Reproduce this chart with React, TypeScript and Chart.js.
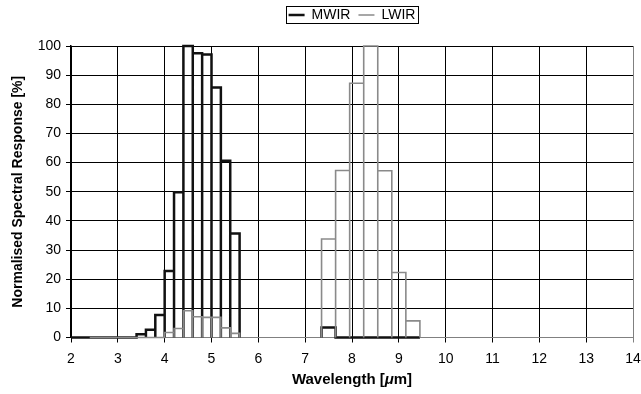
import React, { useEffect, useRef } from 'react';
import { Chart, registerables } from 'chart.js';

Chart.register(...registerables);

// 0.2 µm bins (centres, µm)
const mwirFineCenters = [2.1, 2.3, 2.5, 2.7, 2.9, 3.1, 3.3, 3.5, 3.7, 3.9, 4.1, 4.3, 4.5, 4.7, 4.9, 5.1, 5.3, 5.5];
const mwirFineValues = [0, 0, 0, 0, 0, 0, 0, 1.1, 2.7, 7.7, 22.8, 49.8, 100, 97.5, 97.1, 85.8, 60.6, 35.7];
const lwirFineCenters = [2.5, 2.7, 2.9, 3.1, 3.3, 3.5, 3.7, 3.9, 4.1, 4.3, 4.5, 4.7, 4.9, 5.1, 5.3, 5.5];
const lwirFineValues = [0, 0, 0, 0, 0, 0, 0, 0, 1.7, 3.1, 9.2, 7.1, 6.9, 6.9, 3.3, 1.4];
// 0.3 µm bins (centres, µm)
const coarseCenters = [7.5, 7.8, 8.1, 8.4, 8.7, 9.0, 9.3];
const mwirCoarseValues = [3.4, 0, 0, 0, 0, 0, 0];
const lwirCoarseValues = [33.8, 57.3, 87.2, 100, 57.2, 22.3, 5.7];

const xMin = 2;
const xMax = 14;
const yMin = 0;
const yMax = 100;
const yStep = 10;
const xStep = 1;

const seriesNames = ['MWIR', 'LWIR'];
const seriesColors = ['#111111', '#8a8a8a'];
const seriesWidths = [2.5, 1.6];

// x-axis title pieces: [text, italic?]
const xTitleParts: [string, boolean][] = [['Wavelength [', false], ['μ', true], ['m]', false]];

const FONT = '"Liberation Sans", Arial, sans-serif';

const toPoints = (xs: number[], ys: number[]) => xs.map((x, i) => ({ x, y: ys[i] }));

// Draws each bin as an outline (left edge, top, right edge) like the original line-traced histogram,
// converting bin edges and values to pixels through the chart's own scales.
const outlinePlugin = {
  id: 'histOutline',
  afterDatasetsDraw(chart: any) {
    const ctx = chart.ctx;
    const xs = chart.scales.x;
    const ys = chart.scales.y;
    const items = chart.data.datasets
      .map((ds: any, i: number) => ({ ds, i }))
      .sort((a: any, b: any) => (b.ds.order || 0) - (a.ds.order || 0));
    ctx.save();
    for (const { ds } of items) {
      const pts = ds.data as { x: number; y: number }[];
      if (!pts.length) continue;
      const half = pts.length > 1 ? (pts[1].x - pts[0].x) / 2 : 0.1;
      const base = ys.getPixelForValue(0);
      ctx.beginPath();
      ctx.strokeStyle = ds.outlineColor;
      ctx.lineWidth = ds.outlineWidth;
      ctx.lineJoin = 'miter';
      ctx.lineCap = 'butt';
      pts.forEach((p, k) => {
        const l = xs.getPixelForValue(p.x - half);
        const r = xs.getPixelForValue(p.x + half);
        const t = ys.getPixelForValue(Math.min(p.y, yMax));
        if (k === 0) ctx.moveTo(l, base);
        else ctx.lineTo(l, base);
        ctx.lineTo(l, t);
        ctx.lineTo(r, t);
        ctx.lineTo(r, base);
      });
      ctx.stroke();
    }
    ctx.restore();
  },
};

const xTitlePlugin = {
  id: 'xTitle',
  afterDraw(chart: any) {
    const ctx = chart.ctx;
    const ca = chart.chartArea;
    const fontFor = (it: boolean) => `${it ? 'italic ' : ''}bold 15px ${FONT}`;
    ctx.save();
    let total = 0;
    const widths = xTitleParts.map(([t, it]) => {
      ctx.font = fontFor(it);
      const w = ctx.measureText(t).width;
      total += w;
      return w;
    });
    let x = (ca.left + ca.right) / 2 - total / 2;
    ctx.fillStyle = '#000';
    ctx.textBaseline = 'middle';
    ctx.textAlign = 'left';
    xTitleParts.forEach(([t, it], i) => {
      ctx.font = fontFor(it);
      ctx.fillText(t, x, chart.height - 14);
      x += widths[i];
    });
    ctx.restore();
  },
};

const legendBoxPlugin = {
  id: 'legendBox',
  afterInit(chart: any) {
    const lg = chart.legend;
    if (lg && !lg.__patched) {
      const orig = lg.fit.bind(lg);
      lg.fit = function () {
        orig();
        this.height = 46;
      };
      lg.__patched = true;
    }
  },
  afterLayout(chart: any) {
    const lg = chart.legend;
    const ca = chart.chartArea;
    if (!lg || !ca) return;
    const d = (ca.left + ca.right) / 2 - (lg.left + lg.right) / 2;
    lg.left += d;
    lg.right += d;
  },
  afterDraw(chart: any) {
    const lg = chart.legend;
    if (!lg || !lg.legendHitBoxes || !lg.legendHitBoxes.length) return;
    const boxes = lg.legendHitBoxes;
    let minX = Infinity, maxX = -Infinity, minY = Infinity, maxY = -Infinity;
    boxes.forEach((b: any) => {
      minX = Math.min(minX, b.left);
      maxX = Math.max(maxX, b.left + b.width);
      minY = Math.min(minY, b.top);
      maxY = Math.max(maxY, b.top + b.height);
    });
    const ctx = chart.ctx;
    ctx.save();
    ctx.strokeStyle = '#000';
    ctx.lineWidth = 1;
    ctx.strokeRect(Math.round(minX - 3) + 0.5, Math.round(minY - 2) + 0.5, Math.round(maxX - minX + 5), Math.round(maxY - minY + 3));
    ctx.restore();
  },
};

export default function App() {
  const ref = useRef<HTMLCanvasElement>(null);

  useEffect(() => {
    if (!ref.current) return;
    const common = {
      type: 'bar' as const,
      backgroundColor: 'rgba(0,0,0,0)',
      borderWidth: 0,
      barThickness: 'flex' as const,
      categoryPercentage: 1,
      barPercentage: 1,
      grouped: false,
    };
    const chart = new Chart(ref.current, {
      type: 'bar',
      data: {
        datasets: [
          { ...common, label: 'MWIR', data: toPoints(mwirFineCenters, mwirFineValues), outlineColor: seriesColors[0], outlineWidth: seriesWidths[0], order: 2 } as any,
          { ...common, label: 'MWIR', data: toPoints(coarseCenters, mwirCoarseValues), outlineColor: seriesColors[0], outlineWidth: seriesWidths[0], order: 2 } as any,
          { ...common, label: 'LWIR', data: toPoints(lwirFineCenters, lwirFineValues), outlineColor: seriesColors[1], outlineWidth: seriesWidths[1], order: 1 } as any,
          { ...common, label: 'LWIR', data: toPoints(coarseCenters, lwirCoarseValues), outlineColor: seriesColors[1], outlineWidth: seriesWidths[1], order: 1 } as any,
        ],
      },
      options: {
        animation: false,
        responsive: true,
        maintainAspectRatio: false,
        layout: { padding: { top: 0, left: 0, right: 0, bottom: 0 } },
        plugins: {
          tooltip: { enabled: false },
          legend: {
            display: true,
            position: 'top',
            labels: {
              font: { family: FONT, size: 14 },
              color: '#000',
              usePointStyle: true,
              pointStyleWidth: 16,
              padding: 8,
              generateLabels: () =>
                seriesNames.map((name, i) => ({
                  text: name,
                  fillStyle: seriesColors[i],
                  strokeStyle: seriesColors[i],
                  lineWidth: seriesWidths[i],
                  pointStyle: 'line',
                  hidden: false,
                  datasetIndex: i,
                  fontColor: '#000',
                })) as any,
            },
          },
        },
        scales: {
          x: {
            type: 'linear',
            min: xMin,
            max: xMax,
            offset: false,
            afterFit: (s: any) => { s.height = 56.5; s.paddingRight = 8; },
            ticks: {
              stepSize: xStep,
              color: '#000',
              font: { family: FONT, size: 14 },
              padding: 8,
              maxRotation: 0,
            },
            grid: {
              offset: false,
              color: (c: any) => (c.tick && c.tick.value === xMax ? '#808080' : '#000'),
              lineWidth: 1,
              tickLength: 5,
            },
            border: { color: '#808080', width: 1 },
            title: { display: false },
          },
          y: {
            type: 'linear',
            min: yMin,
            max: yMax,
            afterFit: (s: any) => { s.width = 71; },
            ticks: {
              stepSize: yStep,
              color: '#000',
              font: { family: FONT, size: 14 },
              padding: 5,
            },
            grid: { color: '#000', lineWidth: 1, tickLength: 5 },
            border: { color: '#000', width: 1.5 },
            title: {
              display: true,
              text: 'Normalised Spectral Response [%]',
              color: '#000',
              font: { family: FONT, size: 14, weight: 'bold' },
              padding: { top: 10, bottom: 0 },
            },
          },
        },
      },
      plugins: [outlinePlugin, legendBoxPlugin, xTitlePlugin],
    } as any);
    return () => chart.destroy();
  }, []);

  return (
    <div style={{ position: 'fixed', left: 0, top: 0, width: 641, height: 394, background: '#fff' }}>
      <canvas ref={ref} />
    </div>
  );
}
